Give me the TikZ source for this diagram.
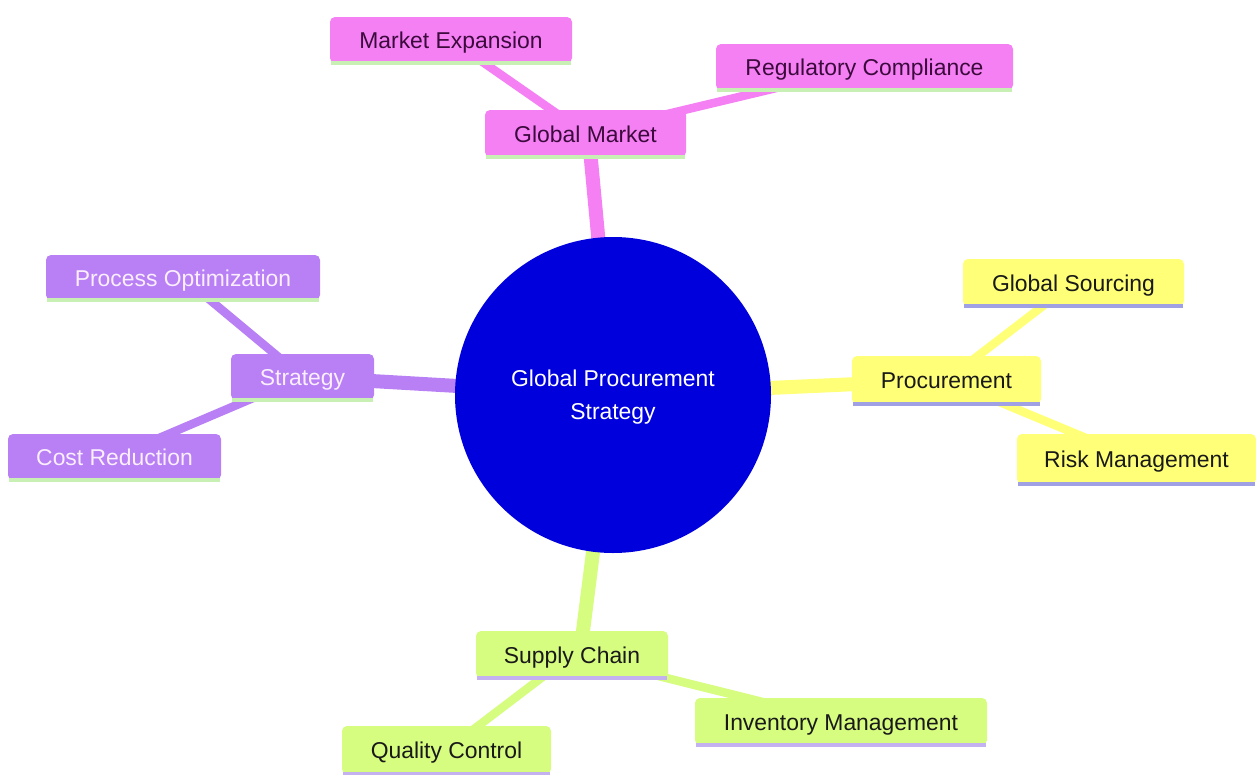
\documentclass[tikz,border=0pt]{standalone}
\usepackage{fontspec}
\setmainfont{Liberation Sans}
\usetikzlibrary{calc,backgrounds}
\definecolor{pinkc}{RGB}{244,128,244}
\definecolor{purplec}{RGB}{184,128,244}
\definecolor{yellowc}{RGB}{255,255,120}
\definecolor{limec}{RGB}{214,252,128}
\definecolor{centerc}{RGB}{0,0,221}
\definecolor{stripeg}{RGB}{200,240,180}
\definecolor{stripey}{RGB}{160,160,228}
\definecolor{stripel}{RGB}{196,178,240}
\definecolor{pinktxt}{RGB}{60,10,60}
\definecolor{purpletxt}{RGB}{250,238,255}
\definecolor{darktxt}{RGB}{25,25,25}
\tikzset{
  box/.style={rectangle, rounded corners=5pt, inner sep=0pt, align=center,
    text height=17pt, text depth=0pt,
    font=\fontsize{22.9}{33}\selectfont},
  pinkbox/.style={box, fill=pinkc, text=pinktxt},
  purplebox/.style={box, fill=purplec, text=purpletxt},
  yellowbox/.style={box, fill=yellowc, text=darktxt},
  limebox/.style={box, fill=limec, text=darktxt},
  mainedge/.style={line width=14pt},
  leafedge/.style={line width=8.5pt},
  stripe/.style={line width=3.5pt}
}
\begin{document}
\begin{tikzpicture}[x=1pt,y=-1pt]
\useasboundingbox (0,0) rectangle (1256,774);
% central node
\node[circle, fill=centerc, minimum size=316pt, inner sep=0pt, text=white, align=center,
  text height=49.7pt, text depth=1.6pt,
  font=\fontsize{22.9}{33}\selectfont] (C) at (613,395) {Global Procurement\\Strategy};
% pink branch
\node[pinkbox, minimum width=201pt, minimum height=47pt] (GM) at (585.5,133.5) {Global Market};
\node[pinkbox, minimum width=242pt, minimum height=46pt] (ME) at (451,40) {Market Expansion};
\node[pinkbox, minimum width=297pt, minimum height=46pt] (RC) at (864.5,67) {Regulatory Compliance};
% purple branch
\node[purplebox, minimum width=143pt, minimum height=46pt] (ST) at (302.5,377) {Strategy};
\node[purplebox, minimum width=274pt, minimum height=45pt] (PO) at (183,277.5) {Process Optimization};
\node[purplebox, minimum width=213pt, minimum height=46pt] (CR) at (114.5,457) {Cost Reduction};
% yellow branch
\node[yellowbox, minimum width=189pt, minimum height=48pt] (PR) at (946.5,380) {Procurement};
\node[yellowbox, minimum width=221pt, minimum height=47pt] (GS) at (1073.5,282.5) {Global Sourcing};
\node[yellowbox, minimum width=239pt, minimum height=50pt] (RM) at (1136.5,459) {Risk Management};
% lime branch
\node[limebox, minimum width=192pt, minimum height=47pt] (SC) at (572,654.5) {Supply Chain};
\node[limebox, minimum width=292pt, minimum height=47pt] (IM) at (841,721.5) {Inventory Management};
\node[limebox, minimum width=209pt, minimum height=48pt] (QC) at (446.5,750) {Quality Control};
% stripes
\foreach \n/\c in {GM/stripeg,ME/stripeg,RC/stripeg,ST/stripeg,PO/stripeg,CR/stripeg,
  PR/stripey,GS/stripey,RM/stripey,SC/stripel,IM/stripel,QC/stripel}
  \draw[stripe, draw=\c] ($(\n.south west)+(1,0)$) -- ($(\n.south east)+(-1,0)$);
\begin{pgfonlayer}{background}
  \draw[mainedge, pinkc] (C.center) -- ($(GM.center)+(3,0)$);
  \draw[mainedge, purplec] (C.center) -- (ST.center);
  \draw[mainedge, yellowc] (C.center) -- (PR.center);
  \draw[mainedge, limec] (C.center) -- ($(SC.center)+(8,0)$);
  \draw[leafedge, pinkc] (GM.center) -- (ME.center);
  \draw[leafedge, pinkc] (GM.center) -- (RC.center);
  \draw[leafedge, purplec] (ST.center) -- (PO.center);
  \draw[leafedge, purplec] (ST.center) -- (CR.center);
  \draw[leafedge, yellowc] (PR.center) -- (GS.center);
  \draw[leafedge, yellowc] (PR.center) -- (RM.center);
  \draw[leafedge, limec] (SC.center) -- (QC.center);
  \draw[leafedge, limec] (SC.center) -- (IM.center);
\end{pgfonlayer}
\end{tikzpicture}
\end{document}
